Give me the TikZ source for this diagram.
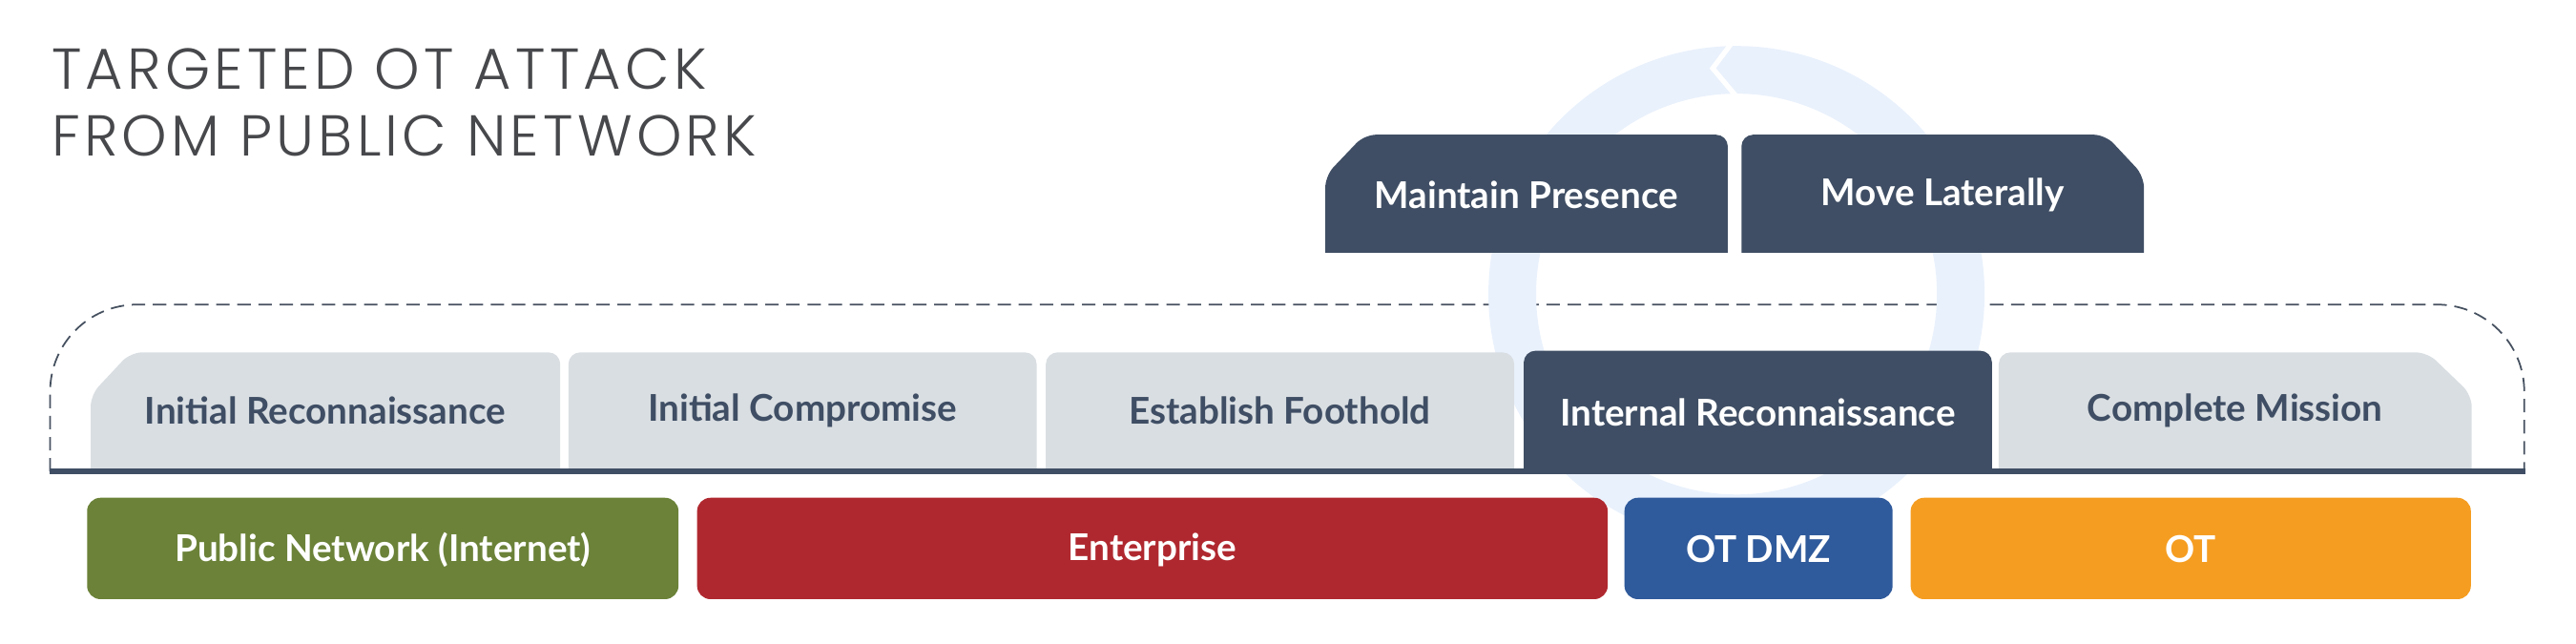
\documentclass[tikz,border=0pt]{standalone}
\usepackage{fontspec}
\setmainfont{Lato}
\IfFontExistsTF{Poppins Light}{\newfontfamily\titlefont[LetterSpace=7]{Poppins Light}}{\newfontfamily\titlefont[LetterSpace=5]{Poppins}}
\definecolor{navy}{HTML}{3F4E64}
\definecolor{tabgray}{HTML}{D9DEE2}
\definecolor{netgreen}{HTML}{6B8238}
\definecolor{entred}{HTML}{B0282F}
\definecolor{dmzblue}{HTML}{2F5A9B}
\definecolor{otorange}{HTML}{F59D21}
\definecolor{ringblue}{HTML}{E9F1FC}
\definecolor{dashgray}{HTML}{45505F}
\definecolor{titlegray}{HTML}{47484B}
\begin{document}
\begin{tikzpicture}[x=0.01722cm, y=-0.01722cm,
  lbl/.style={font=\bfseries\fontsize{11}{13}\selectfont, inner sep=0pt, anchor=center},
  ttl/.style={font=\titlefont\fontsize{17.2}{20}\selectfont, text=titlegray, inner sep=0pt, anchor=base west},
  tabshape/.style={rounded corners=3.5pt},
  barshape/.style={rounded corners=4pt},
  dashline/.style={draw=dashgray, line width=0.5pt, dash pattern=on 4pt off 2.3pt, rounded corners=26pt}
]
\useasboundingbox (0,0) rectangle (1568,392);

% title
\node[ttl] (t1) at (31,54.2) {TARGETED OT ATTACK};
\node[ttl] (t2) at (31,95.2) {FROM PUBLIC NETWORK};

% dashed frame
\draw[dashline] (30.5,287) -- (30.5,185.4) -- (1536.5,185.4) -- (1536.5,287);

% background cycle ring
\fill[ringblue, even odd rule] (1057,179) circle[radius=151] (1057,179) circle[radius=122];
\draw[white, line width=1.5pt] (1055,25) -- (1042.5,41.6) -- (1058,60);

% stage tabs
\begin{scope}
\clip (0,0) rectangle (1568,287);
\fill[tabgray, tabshape] (55.2,300) -- (55.2,240.4) -- (79.4,214.5) -- (341,214.5) -- (341,300) -- cycle;
\fill[tabgray, tabshape] (346,300) -- (346,214.5) -- (631,214.5) -- (631,300) -- cycle;
\fill[tabgray, tabshape] (636.6,300) -- (636.6,214.5) -- (921.7,214.5) -- (921.7,300) -- cycle;
\fill[navy, tabshape] (927.5,300) -- (927.5,213.5) -- (1212.5,213.5) -- (1212.5,300) -- cycle;
\fill[tabgray, tabshape] (1216.6,300) -- (1216.6,214.5) -- (1477.6,214.5) -- (1504.5,240.4) -- (1504.5,300) -- cycle;
\end{scope}

% upper tabs
\begin{scope}
\clip (0,0) rectangle (1568,153.5);
\fill[navy, tabshape] (806.7,170) -- (806.7,107) -- (830.5,82) -- (1051.7,82) -- (1051.7,170) -- cycle;
\fill[navy, tabshape] (1060,170) -- (1060,82) -- (1281.5,82) -- (1305,107.1) -- (1305,170) -- cycle;
\end{scope}

% base line
\draw[navy, line width=1.7pt] (30,287) -- (1537,287);

% zone bars
\fill[netgreen, barshape] (53,303) rectangle (413,364.7);
\fill[entred, barshape] (424.3,303) rectangle (978.6,364.7);
\fill[dmzblue, barshape] (988.8,303) rectangle (1152,364.7);
\fill[otorange, barshape] (1163,303) rectangle (1504,364.7);

% labels
\node[lbl, text=navy] (s1) at (198,250) {Initial Reconnaissance};
\node[lbl, text=navy] (s2) at (488.5,250) {Initial Compromise};
\node[lbl, text=navy] (s3) at (779,250) {Establish Foothold};
\node[lbl, text=white] (s4) at (1070,251) {Internal Reconnaissance};
\node[lbl, text=navy] (s5) at (1360.5,250) {Complete Mission};
\node[lbl, text=white] (u1) at (929,118.5) {Maintain Presence};
\node[lbl, text=white] (u2) at (1182.5,118.5) {Move Laterally};
\node[lbl, text=white] (z1) at (233,334.5) {Public Network (Internet)};
\node[lbl, text=white] (z2) at (701.5,334.5) {Enterprise};
\node[lbl, text=white] (z3) at (1070.4,334.5) {OT DMZ};
\node[lbl, text=white] (z4) at (1333.5,334.5) {OT};
\end{tikzpicture}
\end{document}
